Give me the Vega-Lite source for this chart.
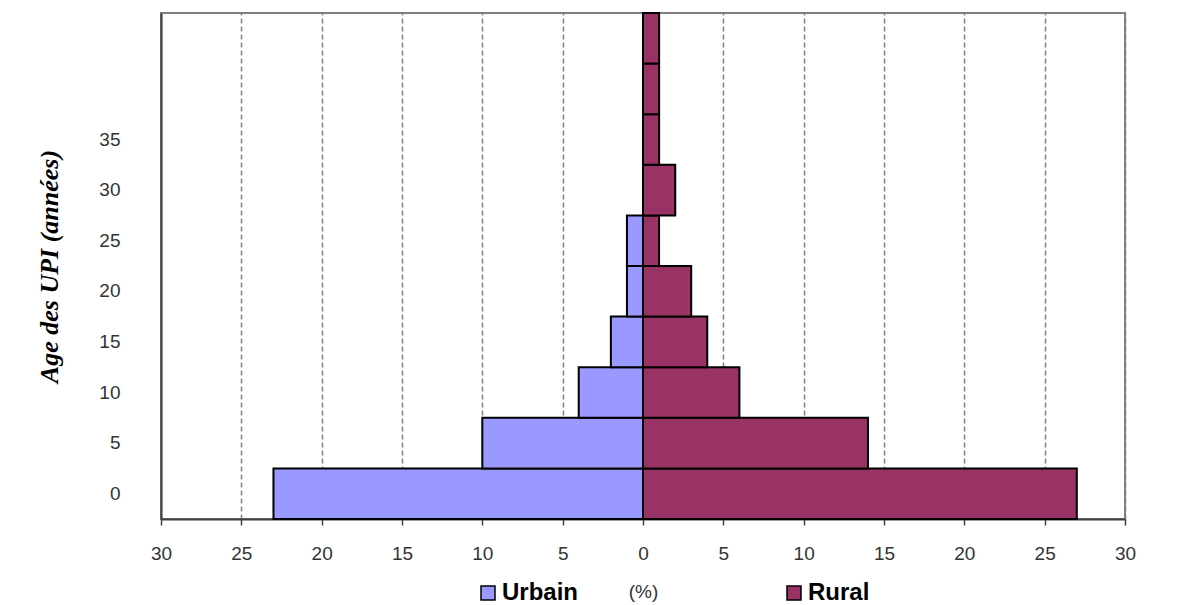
{
  "$schema": "https://vega.github.io/schema/vega-lite/v6.json",
  "width": 964,
  "height": 506,
  "autosize": {"type": "none"},
  "padding": {"left": 161, "top": 13, "right": 75, "bottom": 86},
  "background": "white",
  "config": {
    "view": {"stroke": "#808080", "strokeWidth": 2},
    "font": "Liberation Sans"
  },
  "data": {
    "values": [
      {"age": 0, "groupe": "Urbain", "pct": -23},
      {"age": 5, "groupe": "Urbain", "pct": -10},
      {"age": 10, "groupe": "Urbain", "pct": -4},
      {"age": 15, "groupe": "Urbain", "pct": -2},
      {"age": 20, "groupe": "Urbain", "pct": -1},
      {"age": 25, "groupe": "Urbain", "pct": -1},
      {"age": 30, "groupe": "Urbain", "pct": 0},
      {"age": 35, "groupe": "Urbain", "pct": 0},
      {"age": 40, "groupe": "Urbain", "pct": 0},
      {"age": 45, "groupe": "Urbain", "pct": 0},
      {"age": 0, "groupe": "Rural", "pct": 27},
      {"age": 5, "groupe": "Rural", "pct": 14},
      {"age": 10, "groupe": "Rural", "pct": 6},
      {"age": 15, "groupe": "Rural", "pct": 4},
      {"age": 20, "groupe": "Rural", "pct": 3},
      {"age": 25, "groupe": "Rural", "pct": 1},
      {"age": 30, "groupe": "Rural", "pct": 2},
      {"age": 35, "groupe": "Rural", "pct": 1},
      {"age": 40, "groupe": "Rural", "pct": 1},
      {"age": 45, "groupe": "Rural", "pct": 1}
    ]
  },
  "mark": {"type": "bar", "stroke": "black", "strokeWidth": 2, "orient": "horizontal"},
  "encoding": {
    "y": {
      "field": "age",
      "type": "ordinal",
      "sort": "descending",
      "scale": {"paddingInner": 0, "paddingOuter": 0},
      "axis": {
        "title": "Age des UPI (années)",
        "titleFont": "Liberation Serif",
        "titleFontSize": 26,
        "titleFontWeight": "bold",
        "titleFontStyle": "italic",
        "titleColor": "#000000",
        "titlePadding": 36,
        "labelExpr": "datum.value <= 35 ? datum.label : ''",
        "labelFontSize": 19,
        "labelColor": "#333333",
        "labelPadding": 41,
        "labelAngle": 0,
        "ticks": false,
        "domain": true,
        "domainColor": "#404040",
        "domainWidth": 2,
        "grid": false
      }
    },
    "x": {
      "field": "pct",
      "type": "quantitative",
      "scale": {"domain": [-30, 30], "nice": false, "zero": false},
      "axis": {
        "title": "(%)",
        "titleFontSize": 19,
        "titleFontWeight": "normal",
        "titleColor": "#333333",
        "titlePadding": 19,
        "values": [-30, -25, -20, -15, -10, -5, 0, 5, 10, 15, 20, 25, 30],
        "labelExpr": "abs(datum.value)",
        "labelFlush": false,
        "labelOverlap": false,
        "labelFontSize": 19,
        "labelColor": "#333333",
        "labelPadding": 19,
        "tickSize": 6,
        "tickColor": "#404040",
        "tickWidth": 1.5,
        "domainColor": "#404040",
        "domainWidth": 2,
        "grid": true,
        "gridColor": "#808080",
        "gridDash": [5, 3],
        "gridWidth": 1.5
      }
    },
    "fill": {
      "field": "groupe",
      "type": "nominal",
      "scale": {"domain": ["Urbain", "Rural"], "range": ["#9999FF", "#993366"]},
      "legend": {
        "title": null,
        "orient": "none",
        "direction": "horizontal",
        "legendX": 315,
        "legendY": 568,
        "symbolType": "square",
        "symbolSize": 196,
        "symbolStrokeColor": "black",
        "symbolStrokeWidth": 1.5,
        "labelFontSize": 24,
        "labelFontWeight": "bold",
        "labelColor": "#000000",
        "labelOffset": 2,
        "columnPadding": 203
      }
    }
  }
}
